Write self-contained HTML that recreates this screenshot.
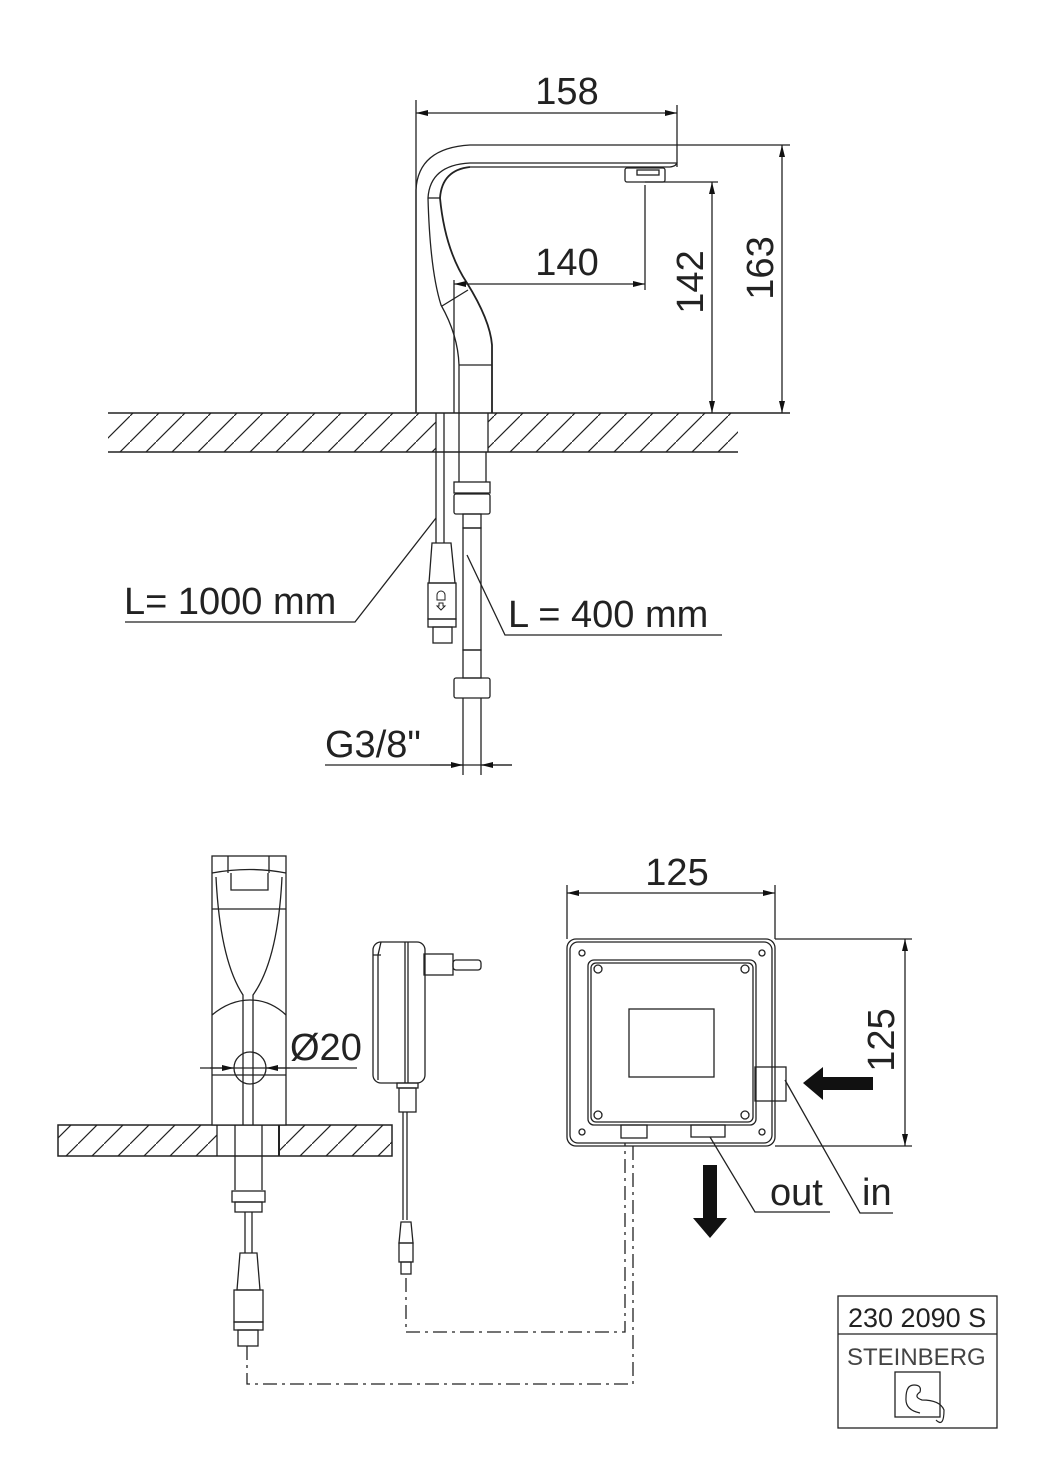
<!DOCTYPE html>
<html><head><meta charset="utf-8"><style>
html,body{margin:0;padding:0;background:#fff}
svg{display:block}
text{font-family:"Liberation Sans",sans-serif;fill:#222}
</style></head><body>
<svg width="1040" height="1471" viewBox="0 0 1040 1471" xmlns="http://www.w3.org/2000/svg">
<defs>
<pattern id="h" patternUnits="userSpaceOnUse" width="26" height="26">
<path d="M-2,28 L28,-2" stroke="#222" stroke-width="1.2"/>
</pattern>
<marker id="a" viewBox="0 0 12 6" refX="12" refY="3" markerWidth="12" markerHeight="6" orient="auto-start-reverse" markerUnits="userSpaceOnUse"><path d="M0,0 L12,3 L0,6z" fill="#111"/></marker>
</defs>
<g fill="none" stroke="#222" stroke-width="1.3">
<rect x="108" y="413" width="328" height="39" fill="url(#h)" stroke="none"/>
<rect x="488" y="413" width="250" height="39" fill="url(#h)" stroke="none"/>
<line x1="108" y1="413" x2="790" y2="413" stroke-width="1.5"/>
<line x1="108" y1="452" x2="738" y2="452" stroke-width="1.5"/>
<line x1="436" y1="413" x2="436" y2="452"/><line x1="488" y1="413" x2="488" y2="452"/>
<line x1="444" y1="413" x2="444" y2="452"/><line x1="459" y1="413" x2="459" y2="452"/>
<path d="M416,413 L416,190 Q418,148 470,145 L677,145 L677,167"/>
<path d="M470,163 L676,163 M470,167 L670,167 Q677,166 677,162"/>
<path d="M470,163 Q430,165 428,198 Q430,270 441,305 Q458,335 459,365 L459,413"/>
<path d="M470,167 Q442,170 440,198 Q445,250 467,283 Q490,320 492,345 L492,413" stroke-width="1.8"/>
<line x1="428" y1="198" x2="440" y2="198"/>
<line x1="459" y1="365" x2="492" y2="365"/>
<line x1="442" y1="306" x2="468" y2="290"/>
<rect x="625" y="168" width="40" height="14" rx="2"/><rect x="637" y="170" width="22" height="5"/>
<line x1="416" y1="100" x2="416" y2="413"/><line x1="677" y1="105" x2="677" y2="145"/>
<line x1="416" y1="113" x2="677" y2="113" marker-start="url(#a)" marker-end="url(#a)"/>
<line x1="645" y1="185" x2="645" y2="290"/><line x1="454" y1="280" x2="454" y2="413"/>
<line x1="454" y1="284" x2="645" y2="284" marker-start="url(#a)" marker-end="url(#a)"/>
<line x1="645" y1="182" x2="718" y2="182"/>
<line x1="712" y1="182" x2="712" y2="413" marker-start="url(#a)" marker-end="url(#a)"/>
<line x1="677" y1="145" x2="790" y2="145"/>
<line x1="782" y1="145" x2="782" y2="413" marker-start="url(#a)" marker-end="url(#a)"/>
<line x1="436" y1="452" x2="436" y2="543"/><line x1="444" y1="452" x2="444" y2="543"/>
<line x1="459" y1="452" x2="459" y2="482"/><line x1="486" y1="452" x2="486" y2="482"/>
<rect x="454" y="482" width="36" height="11"/><rect x="454" y="494" width="36" height="20" rx="2"/>
<rect x="463" y="514" width="18" height="14"/><rect x="463" y="528" width="18" height="122"/>
<rect x="463" y="650" width="18" height="28"/>
<rect x="454" y="678" width="36" height="20" rx="2"/>
<line x1="463" y1="698" x2="463" y2="775"/><line x1="481" y1="698" x2="481" y2="775"/>
<path d="M432,543 L451,543 L455,583 L429,583 Z"/>
<rect x="428" y="583" width="28" height="36"/><rect x="428" y="619" width="28" height="8"/><rect x="433" y="627" width="19" height="16"/>
<path d="M437,600 v-5 a4,4 0 0 1 8,0 v5z M439,603 h4 v3 h2 l-4,4 l-4,-4 h2z" stroke-width="1"/>
<path d="M436,518 L355,622 L125,622"/>
<path d="M467,555 L505,635 L722,635"/>
<line x1="325" y1="765" x2="512" y2="765"/>
<line x1="430" y1="765" x2="463" y2="765" marker-end="url(#a)"/>
<line x1="512" y1="765" x2="481" y2="765" marker-end="url(#a)"/>

<rect x="58" y="1125" width="159" height="31" fill="url(#h)" stroke="none"/>
<rect x="279" y="1125" width="113" height="31" fill="url(#h)" stroke="none"/>
<rect x="58" y="1125" width="334" height="31" stroke-width="1.5"/>
<line x1="217" y1="1125" x2="217" y2="1156"/><line x1="279" y1="1125" x2="279" y2="1156" stroke-width="2"/>
<rect x="212" y="856" width="74" height="269" fill="#fff"/>
<path d="M228,856 L228,873 M269,856 L269,873 M212,873 Q250,866 286,873 M231,873 L231,890 L268,890 L268,873"/>
<line x1="212" y1="909" x2="286" y2="909"/>
<path d="M216,877 Q220,960 243,995 L243,1125 M282,877 Q278,960 253,995 L253,1125"/>
<path d="M212,1015 Q230,1000 250,1000 Q270,1000 286,1015"/>
<line x1="212" y1="1075" x2="286" y2="1075"/>
<circle cx="250" cy="1068" r="16"/>
<line x1="200" y1="1068" x2="357" y2="1068"/>
<line x1="210" y1="1068" x2="234" y2="1068" marker-end="url(#a)"/>
<line x1="290" y1="1068" x2="266" y2="1068" marker-end="url(#a)"/>
<line x1="235" y1="1125" x2="235" y2="1190"/><line x1="262" y1="1125" x2="262" y2="1190"/>
<rect x="232" y="1191" width="33" height="11"/><rect x="235" y="1202" width="27" height="10"/>
<line x1="245" y1="1212" x2="245" y2="1253"/><line x1="252" y1="1212" x2="252" y2="1253"/>
<path d="M240,1253 L257,1253 L260,1290 L237,1290Z"/>
<rect x="234" y="1290" width="29" height="32"/><rect x="234" y="1322" width="29" height="8"/><rect x="238" y="1330" width="20" height="16"/>
<rect x="373" y="942" width="52" height="141" rx="8"/>
<path d="M381,942 L378,955 L378,1080 M373,955 L381,955"/>
<line x1="405" y1="942" x2="405" y2="1083"/><line x1="408" y1="942" x2="408" y2="1083"/>
<rect x="424" y="954" width="29" height="21"/><rect x="453" y="960" width="28" height="10" rx="3"/>
<rect x="397" y="1083" width="21" height="5"/><rect x="399" y="1088" width="17" height="24"/>
<line x1="403" y1="1112" x2="403" y2="1220"/><line x1="407" y1="1112" x2="407" y2="1220"/>
<path d="M401,1222 L411,1222 L413,1243 L399,1243Z"/><rect x="399" y="1243" width="14" height="19"/><rect x="401" y="1262" width="10" height="12"/>
<path d="M406,1278 L406,1332 L625,1332 L625,1143" stroke-dasharray="14,5,3,5"/>
<path d="M247,1346 L247,1384 L633,1384 L633,1143" stroke-dasharray="14,5,3,5"/>
<rect x="567" y="939" width="208" height="207" rx="9"/>
<rect x="570" y="942" width="202" height="201" rx="8"/>
<rect x="588" y="960" width="168" height="165" rx="6"/>
<rect x="591" y="963" width="162" height="159" rx="5"/>
<rect x="629" y="1009" width="85" height="68"/>
<rect x="755" y="1067" width="31" height="34"/>
<rect x="621" y="1125" width="26" height="13"/><rect x="691" y="1125" width="34" height="12"/>
<circle cx="582" cy="953" r="3"/><circle cx="762" cy="953" r="3"/><circle cx="582" cy="1132" r="3"/><circle cx="762" cy="1132" r="3"/>
<circle cx="598" cy="969" r="4"/><circle cx="745" cy="969" r="4"/><circle cx="598" cy="1115" r="4"/><circle cx="745" cy="1115" r="4"/>
<line x1="567" y1="885" x2="567" y2="939"/><line x1="775" y1="885" x2="775" y2="939"/>
<line x1="567" y1="893" x2="775" y2="893" marker-start="url(#a)" marker-end="url(#a)"/>
<line x1="775" y1="939" x2="912" y2="939"/><line x1="775" y1="1146" x2="912" y2="1146"/>
<line x1="905" y1="939" x2="905" y2="1146" marker-start="url(#a)" marker-end="url(#a)"/>
<path d="M710,1137 L755,1212 L830,1212"/>
<path d="M785,1080 L860,1213 L893,1213"/>
<rect x="838" y="1296" width="159" height="132"/>
<line x1="838" y1="1334" x2="997" y2="1334"/>
<rect x="895" y="1372" width="45" height="45"/>
<path d="M920,1413 Q905,1410 906,1398 Q906,1385 914,1385 Q922,1385 920,1392 Q913,1397 922,1400 Q940,1400 944,1410 Q944,1428 936,1420" stroke-width="1.2"/>
</g>
<path d="M803,1083 L823,1067 L823,1077 L873,1077 L873,1090 L823,1090 L823,1100 Z" fill="#111"/>
<path d="M703,1165 L717,1165 L717,1218 L727,1218 L710,1238 L693,1218 L703,1218 Z" fill="#111"/>
<g font-size="38" style="fill:#333">
<text x="567" y="104" text-anchor="middle">158</text>
<text x="567" y="275" text-anchor="middle">140</text>
<text transform="translate(703,282) rotate(-90)" text-anchor="middle">142</text>
<text transform="translate(773,268) rotate(-90)" text-anchor="middle">163</text>
<text x="124" y="614">L= 1000 mm</text>
<text x="508" y="627">L = 400 mm</text>
<text x="325" y="757">G3/8"</text>
<text x="290" y="1060">Ø20</text>
<text x="677" y="885" text-anchor="middle">125</text>
<text transform="translate(894,1040) rotate(-90)" text-anchor="middle">125</text>
<text x="770" y="1205">out</text>
<text x="862" y="1205">in</text>
</g>
<text x="848" y="1327" font-size="27">230 2090 S</text>
<text x="847" y="1365" font-size="24" style="fill:#444">STEINBERG</text>
</svg>
</body></html>
